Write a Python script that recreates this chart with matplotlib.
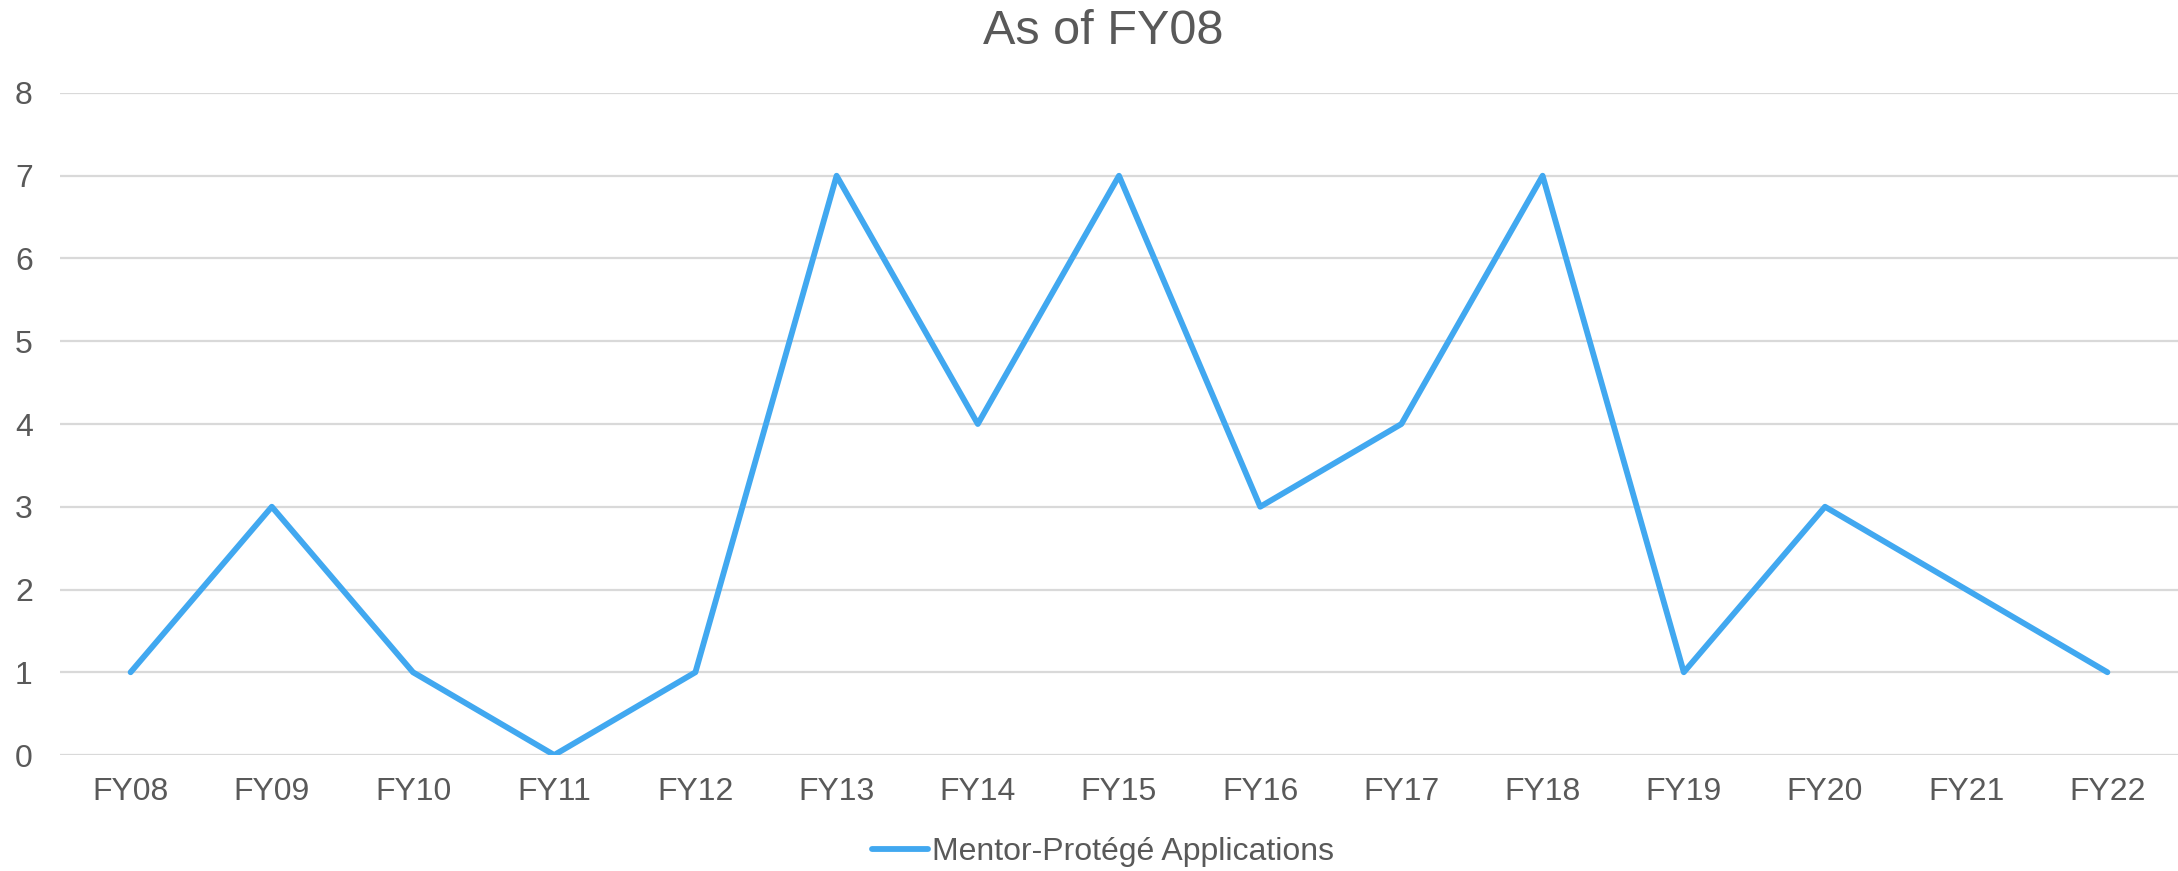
import matplotlib.pyplot as plt

# Data
years = ['FY08', 'FY09', 'FY10', 'FY11', 'FY12', 'FY13', 'FY14', 'FY15',
         'FY16', 'FY17', 'FY18', 'FY19', 'FY20', 'FY21', 'FY22']
applications = [1, 3, 1, 0, 1, 7, 4, 7, 3, 4, 7, 1, 3, 2, 1]

plt.rcParams['font.family'] = ['Liberation Sans', 'DejaVu Sans']
text_color = '#595959'

fig = plt.figure(figsize=(21.78, 8.71), dpi=100)
ax = fig.add_axes([60 / 2178, 1 - 755 / 871, 1 - 60 / 2178, (755 - 93) / 871])

ax.plot(range(len(years)), applications, color='#41A8F0', linewidth=4.2,
        label='Mentor-Protégé Applications', solid_joinstyle='round',
        solid_capstyle='round')

ax.set_xlim(-0.5, len(years) - 0.5)
ax.set_ylim(0, 8)
ax.set_yticks(range(0, 9))
ax.set_xticks(range(len(years)))
ax.set_xticklabels(years)

ax.grid(axis='y', color='#d9d9d9', linewidth=1.6)
ax.set_axisbelow(True)
for s in ax.spines.values():
    s.set_visible(False)
ax.tick_params(axis='both', length=0, labelsize=23, labelcolor=text_color)
ax.tick_params(axis='x', pad=16)
ax.tick_params(axis='y', pad=26)
for lab in ax.get_yticklabels():
    lab.set_horizontalalignment('center')

# title and legend sit slightly right of the figure centre
cx = 1103 / 2178
fig.text(cx, 1 - 31 / 871, 'As of FY08', ha='center', va='center',
         fontsize=35, color=text_color)

leg = fig.legend(loc='center', bbox_to_anchor=(cx, 1 - 852 / 871), frameon=False,
                 fontsize=23, handlelength=1.75, handletextpad=0.12)
for t in leg.get_texts():
    t.set_color(text_color)

fig.savefig('out.png', dpi=100)
